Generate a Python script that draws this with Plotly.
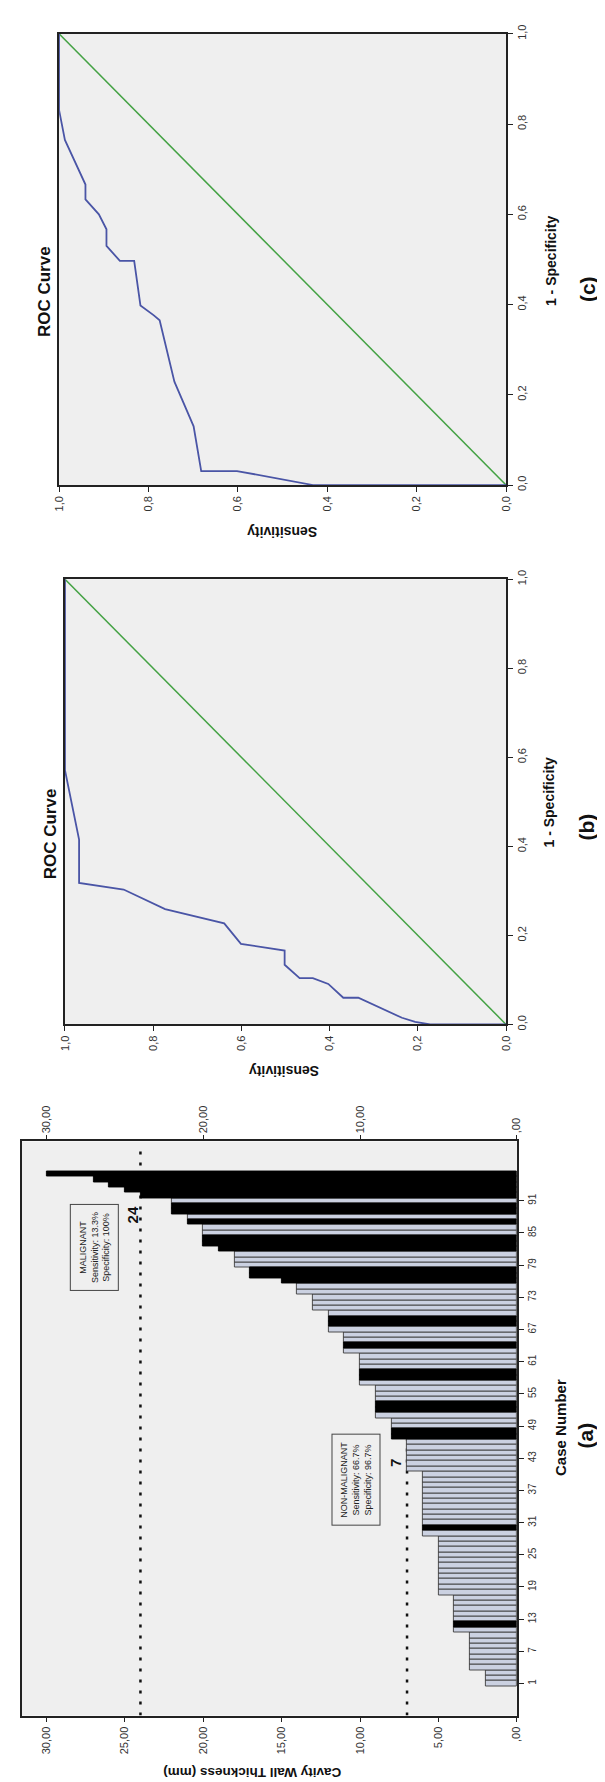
import plotly.graph_objects as go

W, H = 605, 1782
FONT = "Liberation Sans, Arial, sans-serif"

# ---------------- data ----------------
# ROC (b): 1 - specificity and sensitivity
roc_b_fpr = [0.0, 0.0, 0.006, 0.015, 0.060, 0.060, 0.091, 0.104, 0.104, 0.134, 0.166,
             0.181, 0.227, 0.259, 0.303, 0.318, 0.415, 0.571, 1.0]
roc_b_sens = [0.0, 0.172, 0.206, 0.236, 0.335, 0.369, 0.403, 0.438, 0.468, 0.502, 0.502,
              0.601, 0.639, 0.773, 0.867, 0.968, 0.968, 1.0, 1.0]
# ROC (c)
roc_c_fpr = [0.0, 0.0, 0.031, 0.031, 0.130, 0.229, 0.365, 0.376, 0.398, 0.497, 0.497,
             0.530, 0.567, 0.600, 0.633, 0.666, 0.765, 0.831, 1.0]
roc_c_sens = [0.0, 0.432, 0.602, 0.682, 0.699, 0.742, 0.775, 0.788, 0.818, 0.832, 0.864,
              0.894, 0.894, 0.911, 0.941, 0.941, 0.987, 1.0, 1.0]
ref_line = [0.0, 1.0]

roc_ticks = [0.0, 0.2, 0.4, 0.6, 0.8, 1.0]
roc_ticklabels = ["0,0", "0,2", "0,4", "0,6", "0,8", "1,0"]

# (a) cavity wall thickness by case (sorted)
case_numbers = list(range(1, 97))
thickness = ([2] * 3 + [3] * 7 + [4] * 7 + [5] * 11 + [6] * 12 + [7] * 6 + [8] * 4 +
             [9] * 6 + [10] * 6 + [11] * 4 + [12] * 4 + [13] * 3 + [14] * 2 + [15] +
             [17] * 2 + [18] * 3 + [19] + [20] * 4 + [21] * 2 + [22] * 3 +
             [24, 25, 26, 27, 30])
malignant_cases = [12, 30, 47, 48, 52, 53, 58, 59, 64, 68, 69, 76, 77, 78, 82, 83, 84,
                   87, 89, 90, 92, 93, 94, 95, 96]
cutoffs = [24, 7]
cutoff_labels = ["24", "7"]

thick_ticks = [0, 5, 10, 15, 20, 25, 30]
thick_ticklabels = [",00", "5,00", "10,00", "15,00", "20,00", "25,00", "30,00"]
thick_top_ticks = [0, 10, 20, 30]
thick_top_ticklabels = [",00", "10,00", "20,00", "30,00"]
case_ticks = list(range(1, 92, 6))
case_ticklabels = [str(c) for c in case_ticks]

# ---------------- helpers ----------------
def px(x):
    return x / W

def py(y):
    return 1 - y / H

BLUE = "#4a55a6"
GREEN = "#44a244"
AX = "#222222"
BG = "#efefef"

fig = go.Figure()

# ROC (c) -> axes x / y ; ROC (b) -> x2 / y2
for xa, ya, fpr, sens in [("x", "y", roc_c_fpr, roc_c_sens), ("x2", "y2", roc_b_fpr, roc_b_sens)]:
    fig.add_trace(go.Scatter(x=ref_line, y=ref_line, mode="lines", xaxis=xa, yaxis=ya,
                             line=dict(color=GREEN, width=1.5), showlegend=False,
                             hoverinfo="skip"))
    fig.add_trace(go.Scatter(x=sens, y=fpr, mode="lines", xaxis=xa, yaxis=ya,
                             line=dict(color=BLUE, width=1.8), showlegend=False))

# (a) bars
non_x = [t for c, t in zip(case_numbers, thickness) if c not in malignant_cases]
non_y = [c for c in case_numbers if c not in malignant_cases]
mal_x = [t for c, t in zip(case_numbers, thickness) if c in malignant_cases]
mal_y = [c for c in case_numbers if c in malignant_cases]
fig.add_trace(go.Bar(x=non_x, y=non_y, orientation="h", width=1, xaxis="x3", yaxis="y3",
                     marker=dict(color="#cbd1e1", line=dict(color="#3c3c3c", width=0.9)),
                     showlegend=False))
fig.add_trace(go.Bar(x=mal_x, y=mal_y, orientation="h", width=1, xaxis="x3", yaxis="y3",
                     marker=dict(color="#000000", line=dict(color="#000000", width=0.9)),
                     showlegend=False))
# invisible helper so the top thickness axis is drawn
fig.add_trace(go.Scatter(x=[0], y=[0], mode="markers", xaxis="x4", yaxis="y3",
                         marker=dict(opacity=0), showlegend=False, hoverinfo="skip"))

tickfont = dict(family=FONT, size=11, color="#333333")
common = dict(showline=True, linecolor=AX, linewidth=1.5, mirror=True, ticks="outside",
              ticklen=5, tickcolor=AX, tickwidth=1.3, showgrid=False, zeroline=False,
              tickfont=tickfont, tickangle=-90)

case_range = [-4.97, 102.05]
thick_range = [(513 - 8) / 16.0, 0]

fig.update_layout(
    width=W, height=H, margin=dict(l=0, r=0, t=0, b=0),
    paper_bgcolor="white", plot_bgcolor=BG,
    barmode="overlay", bargap=0,
    font=dict(family=FONT),
    xaxis=dict(domain=[px(46), px(502)], range=[1, 0], anchor="y",
               tickvals=roc_ticks, ticktext=roc_ticklabels, **common),
    yaxis=dict(domain=[py(472), py(17)], range=[0, 1], anchor="x", side="right",
               tickvals=roc_ticks, ticktext=roc_ticklabels, **common),
    xaxis2=dict(domain=[px(52), px(502)], range=[1, 0], anchor="y2",
                tickvals=roc_ticks, ticktext=roc_ticklabels, **common),
    yaxis2=dict(domain=[py(1016), py(567)], range=[0, 1], anchor="x2", side="right",
                tickvals=roc_ticks, ticktext=roc_ticklabels, **common),
    xaxis3=dict(domain=[px(8), px(513)], range=thick_range, anchor="y3",
                tickvals=thick_ticks, ticktext=thick_ticklabels, **common),
    xaxis4=dict(overlaying="x3", side="top", range=thick_range, anchor="y3",
                tickvals=thick_top_ticks, ticktext=thick_top_ticklabels,
                ticks="outside", ticklen=5, tickcolor=AX, tickwidth=1.3, showgrid=False,
                zeroline=False, showline=False, tickfont=tickfont, tickangle=-90),
    yaxis3=dict(domain=[py(1713), py(1134)], range=case_range, anchor="x3", side="right",
                tickvals=case_ticks, ticktext=case_ticklabels,
                **{**common, "tickfont": dict(family=FONT, size=10, color="#333333")}),
)

# cutoff dotted lines
fig.add_shape(type="line", xref="x3", yref="y3", x0=cutoffs[0], x1=cutoffs[0],
              y0=case_range[0], y1=101.0, layer="below",
              line=dict(color="#111111", width=2.5, dash="3px,8px"))
fig.add_shape(type="line", xref="x3", yref="y3", x0=cutoffs[1], x1=cutoffs[1],
              y0=case_range[0], y1=46.5, layer="below",
              line=dict(color="#111111", width=2.5, dash="3px,8px"))

def ann(text, x, y, size, angle=-90, bold=True, color="#111111", **kw):
    t = f"<b>{text}</b>" if bold else text
    fig.add_annotation(text=t, x=px(x), y=py(y), xref="paper", yref="paper",
                       showarrow=False, textangle=angle, xanchor="center", yanchor="middle",
                       font=dict(family=FONT, size=size, color=color), **kw)

# panel (c)
ann("ROC Curve", 31, 277, 17)
ann("1 - Specificity", 548, 246, 14)
ann("(c)", 585, 274, 21)
ann("Sensitivity", 274, 520, 14, angle=180)
# panel (b)
ann("ROC Curve", 37, 824, 17)
ann("1 - Specificity", 546, 792, 14)
ann("(b)", 584, 817, 21)
ann("Sensitivity", 276, 1063, 14, angle=180)
# panel (a)
ann("Cavity Wall Thickness (mm)", 243, 1771, 13.5, angle=180)
ann("Case Number", 557, 1422, 15)
ann("(a)", 584, 1430, 21)
ann(cutoff_labels[0], 121, 1208, 15)
ann(cutoff_labels[1], 389, 1458, 15)
ann("MALIGNANT<br>Sensitivity: 13.3%<br>Specificity: 100%", 82, 1241, 9, bold=False,
    color="#222222", bordercolor="#444444", borderwidth=1, borderpad=7, bgcolor=BG)
ann("NON-MALIGNANT<br>Sensitivity: 66.7%<br>Specificity: 96.7%", 349, 1475, 9, bold=False,
    color="#222222", bordercolor="#444444", borderwidth=1, borderpad=7, bgcolor=BG)

fig.write_html("out.html")
